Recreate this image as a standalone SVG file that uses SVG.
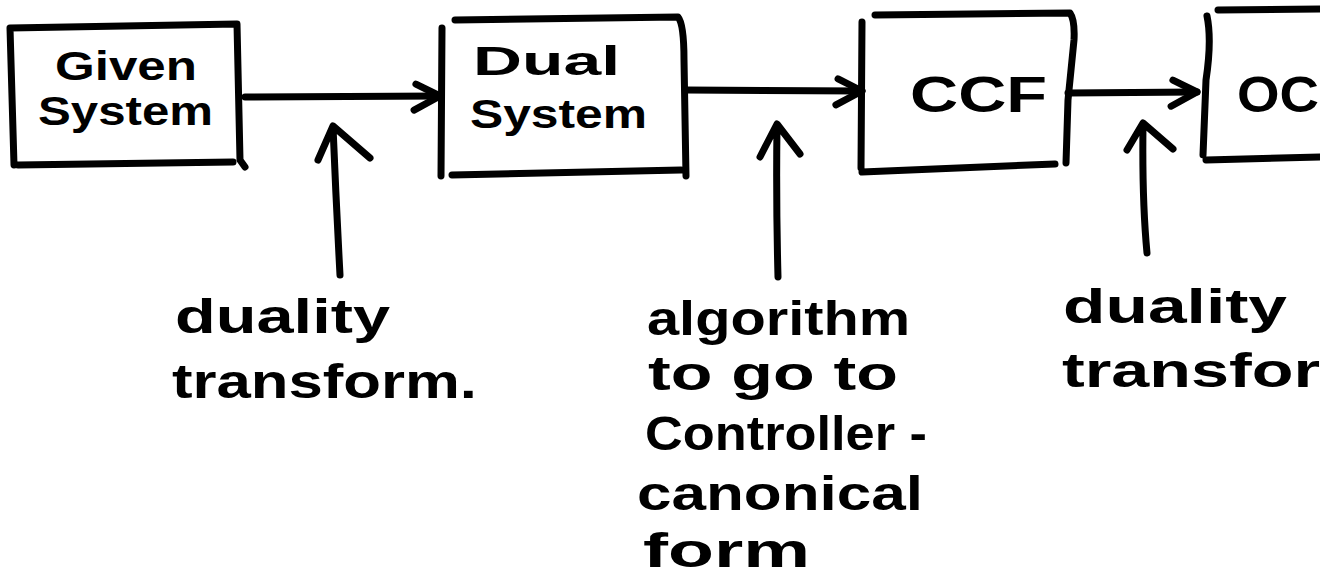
<svg xmlns="http://www.w3.org/2000/svg" width="1320" height="579" viewBox="0 0 1320 579">
  <style>
    .ink { fill: none; stroke: #000; stroke-width: 7; stroke-linecap: round; stroke-linejoin: round; }
    .box-label { font-family: "Liberation Sans", Arial, sans-serif; font-weight: bold; font-size: 40px; fill: #000; }
    .big { font-size: 50px; }
    .note { font-family: "Liberation Sans", Arial, sans-serif; font-weight: bold; font-size: 48px; fill: #000; }
  </style>
  <defs>
    <marker id="open-head" markerUnits="userSpaceOnUse" markerWidth="40" markerHeight="40" viewBox="-30 -20 40 40" refX="0" refY="0" orient="auto">
      <path d="M-24,-12 L0,0 L-26,14" fill="none" stroke="#000" stroke-width="7" stroke-linecap="round" stroke-linejoin="round"/>
    </marker>
  </defs>
  <rect width="1320" height="579" fill="#fff"/>

  <!-- blocks -->
  <g id="given-system">
    <path class="ink" d="M14,165 L10,28 L237,24 L240,160 L245,167 M233,162 L18,165"/>
    <text class="box-label" x="55" y="80" textLength="142" lengthAdjust="spacingAndGlyphs">Given</text>
    <text class="box-label" x="38" y="125" textLength="175" lengthAdjust="spacingAndGlyphs">System</text>
  </g>
  <g id="dual-system">
    <path class="ink" d="M442,28 L441,176 M455,20 L678,17 Q684,24 684,60 L686,176 M452,175 L681,170"/>
    <text class="box-label" x="473" y="75" textLength="147" lengthAdjust="spacingAndGlyphs">Dual</text>
    <text class="box-label" x="470" y="128" textLength="177" lengthAdjust="spacingAndGlyphs">System</text>
  </g>
  <g id="ccf">
    <path class="ink" d="M862,22 L861,168 M875,15 L1070,13 Q1075,20 1074,40 L1068,100 L1066,163 M862,172 L1055,164"/>
    <text class="box-label big" x="910" y="112" textLength="137" lengthAdjust="spacingAndGlyphs">CCF</text>
  </g>
  <g id="ocf">
    <path class="ink" d="M1207,16 Q1212,40 1206,80 L1203,155 M1218,10 L1320,9 M1206,160 L1320,157"/>
    <text class="box-label big" x="1237" y="112" textLength="82" lengthAdjust="spacingAndGlyphs">OC</text>
  </g>

  <!-- connectors -->
  <g id="connectors">
    <path class="ink" d="M245,97 L440,96" marker-end="url(#open-head)"/>
    <path class="ink" d="M686,90 L862,91" marker-end="url(#open-head)"/>
    <path class="ink" d="M1068,93 L1197,92" marker-end="url(#open-head)"/>
    <!-- pointer arrows from the notes -->
    <path class="ink" d="M340,275 Q336,200 333,127 M318,160 L333,126 L370,158"/>
    <path class="ink" d="M778,277 Q776,200 777,126 M760,157 L777,124 L800,154"/>
    <path class="ink" d="M1147,253 Q1142,200 1143,126 M1127,150 L1143,123 L1173,149"/>
  </g>

  <!-- notes -->
  <g id="note-duality-1">
    <text class="note" x="175" y="333" textLength="215" lengthAdjust="spacingAndGlyphs">duality</text>
    <text class="note" x="172" y="398" textLength="305" lengthAdjust="spacingAndGlyphs">transform.</text>
  </g>
  <g id="note-algorithm">
    <text class="note" x="647" y="335" textLength="263" lengthAdjust="spacingAndGlyphs">algorithm</text>
    <text class="note" x="648" y="390" textLength="250" lengthAdjust="spacingAndGlyphs">to go to</text>
    <text class="note" x="645" y="450" textLength="282" lengthAdjust="spacingAndGlyphs">Controller -</text>
    <text class="note" x="637" y="510" textLength="286" lengthAdjust="spacingAndGlyphs">canonical</text>
    <text class="note" x="643" y="567" textLength="167" lengthAdjust="spacingAndGlyphs">form</text>
  </g>
  <g id="note-duality-2">
    <text class="note" x="1063" y="323" textLength="224" lengthAdjust="spacingAndGlyphs">duality</text>
    <text class="note" x="1062" y="387" textLength="258" lengthAdjust="spacingAndGlyphs">transfor</text>
  </g>
</svg>
